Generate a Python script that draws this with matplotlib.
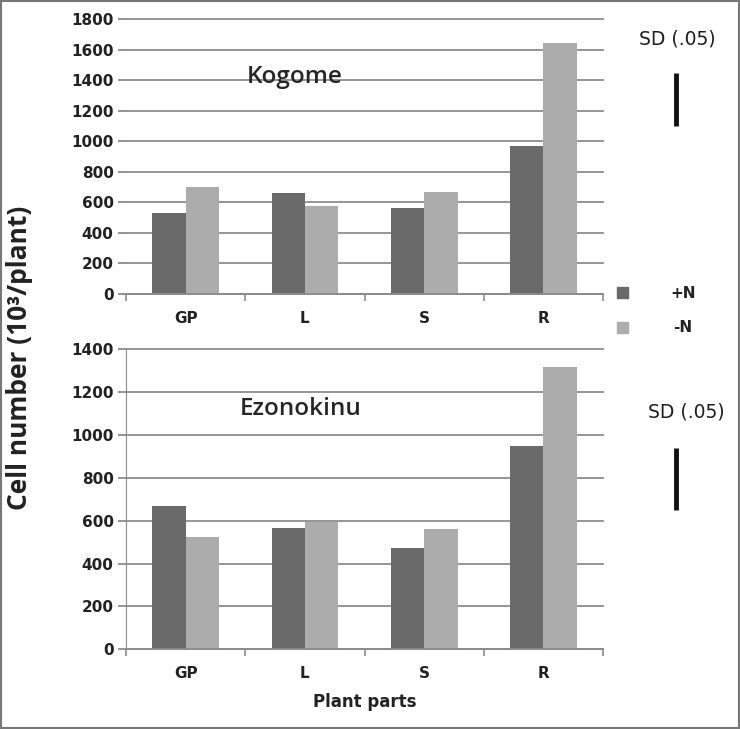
import numpy as np
import matplotlib.pyplot as plt
from matplotlib.transforms import blended_transform_factory
from matplotlib.patches import Rectangle

# data (cell number, 10^3 per plant)
parts = ['GP', 'L', 'S', 'R']
kogome_plus = [530, 660, 563, 970]
kogome_minus = [700, 577, 668, 1645]
ezono_plus = [669, 567, 471, 949]
ezono_minus = [523, 596, 560, 1316]
sd_kogome = (1100, 1450)
sd_ezono = (650, 940)

dark = '#6a6a6a'
light = '#acacac'
grid_c = '#8c8c8c'
tick_font = ['Liberation Sans Narrow', 'DejaVu Sans']

fig = plt.figure(figsize=(7.4, 7.29), dpi=100)
ax1 = fig.add_axes([0.1703, 0.5967, 0.6446, 0.3768])
ax2 = fig.add_axes([0.1703, 0.1093, 0.6446, 0.4115])

x = np.arange(len(parts))
w = 0.28


def draw_panel(ax, plus, minus, ymax, name, name_xy, name_size, sd, sd_text_xy, show_left):
    ax.bar(x - w / 2, plus, w, color=dark, zorder=2)
    ax.bar(x + w / 2, minus, w, color=light, zorder=2)
    ax.set_xlim(-0.5, 3.5)
    ax.set_ylim(0, ymax)
    ax.set_yticks(np.arange(0, ymax + 1, 200))
    ax.yaxis.grid(True, color=grid_c, linewidth=1.3)
    for gl in ax.get_ygridlines():
        gl.set_clip_on(False)
    ax.set_axisbelow(True)
    for s in ['top', 'right']:
        ax.spines[s].set_visible(False)
    ax.spines['left'].set_visible(show_left)
    ax.spines['left'].set_color(grid_c)
    ax.spines['bottom'].set_color(grid_c)
    ax.spines['bottom'].set_linewidth(1.3)
    ax.set_xticks(x)
    ax.set_xticklabels(parts)
    ax.set_xticks(np.arange(-0.5, 4, 1), minor=True)
    ax.tick_params(axis='x', which='major', length=0, pad=12)
    ax.tick_params(axis='x', which='minor', length=5, color=grid_c, width=1.2)
    ax.tick_params(axis='y', length=6, color=grid_c, width=1.3, pad=3)
    for lab in ax.get_xticklabels() + ax.get_yticklabels():
        lab.set_family(tick_font)
        lab.set_fontweight('bold')
        lab.set_fontsize(11)
        lab.set_color('#222222')
    ax.text(name_xy[0], name_xy[1], name, transform=ax.transAxes, fontsize=name_size,
            family=['Open Sans', 'DejaVu Sans'], fontweight='semibold', color='#262626',
            ha='left', va='center')
    tr = blended_transform_factory(ax.transAxes, ax.transData)
    ax.plot([1.154, 1.154], sd, transform=tr, color='#111111', linewidth=3.5,
            clip_on=False, solid_capstyle='butt')
    ax.text(sd_text_xy[0], sd_text_xy[1], 'SD (.05)', transform=ax.transAxes,
            fontsize=13.5, family=tick_font, color='#1e1e1e', ha='center', va='center')


draw_panel(ax1, kogome_plus, kogome_minus, 1800, 'Kogome', (0.253, 0.79), 17.5,
           sd_kogome, (1.155, 0.93), False)
draw_panel(ax2, ezono_plus, ezono_minus, 1400, 'Ezonokinu', (0.238, 0.80), 17.5,
           sd_ezono, (1.175, 0.79), True)

# legend
fig.patches.append(Rectangle((617 / 740, 1 - 298 / 729), 11 / 740, 11 / 729,
                             transform=fig.transFigure, color=dark))
fig.patches.append(Rectangle((617 / 740, 1 - 333 / 729), 11 / 740, 11 / 729,
                             transform=fig.transFigure, color=light))
fig.text(683 / 740, 1 - 293 / 729, '+N', fontsize=11, fontweight='bold', family=tick_font,
         ha='center', va='center', color='#222222')
fig.text(683 / 740, 1 - 328 / 729, '-N', fontsize=11, fontweight='bold', family=tick_font,
         ha='center', va='center', color='#222222')

fig.text(20 / 740, 1 - 358 / 729, 'Cell number (10³/plant)', rotation=90, fontsize=19,
         fontweight='bold', ha='center', va='center', color='#222222',
         family=['Open Sans', 'DejaVu Sans'])
fig.text(365 / 740, 1 - 702 / 729, 'Plant parts', fontsize=12, fontweight='bold',
         family=tick_font, ha='center', va='center', color='#222222')

# frame round the whole picture
fig.patches.append(Rectangle((0.002, 0.002), 0.996, 0.996, transform=fig.transFigure,
                             fill=False, edgecolor='#777777', linewidth=1.5))

fig.savefig('out.png', dpi=100)
